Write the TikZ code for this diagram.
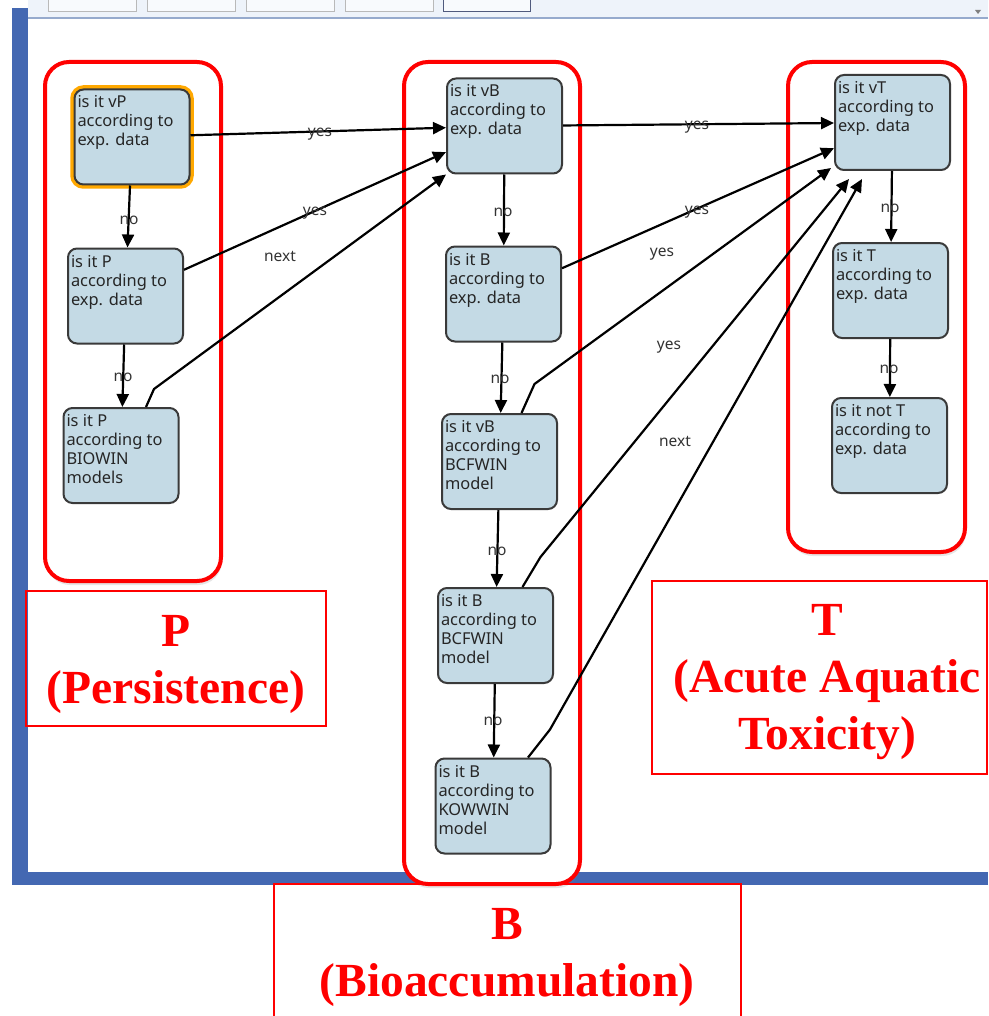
\documentclass[tikz,border=0pt]{standalone}
\usepackage{fontspec}
\setmainfont{Noto Sans}
\newfontfamily\ttlfont{Liberation Serif}
\usepackage{tikz}
\usetikzlibrary{arrows.meta,shadows}

\definecolor{boxblue}{RGB}{196,218,229}
\definecolor{boxline}{RGB}{58,58,58}
\definecolor{grpred}{RGB}{255,0,0}
\definecolor{frameblue}{RGB}{68,104,178}
\definecolor{barblue}{RGB}{238,243,250}
\definecolor{hiorange}{RGB}{255,168,0}

% question text, top left in the box
\newcommand{\qtxt}[1]{\parbox[c][95pt][t]{109pt}{\rule{0pt}{18.5pt}#1}}

\tikzset{
  qbox/.style={draw=boxline,line width=2pt,fill=boxblue,rounded corners=9pt,
    inner xsep=3pt,inner ysep=0pt,text=black!85,font=\fontsize{16.4}{19}\selectfont},
  hilite/.style={preaction={draw=hiorange,line width=8.5pt}},
  flow/.style={draw=black,line width=2.2pt,-{Triangle[length=13pt,width=12pt]}},
  elabel/.style={inner sep=0pt,text=black!80,font=\fontsize{15.5}{18}\selectfont},
  grp/.style={draw=grpred,line width=4pt,rounded corners=24pt,fill=white,
    drop shadow={opacity=0.2,shadow xshift=1pt,shadow yshift=-4pt}},
  tagbox/.style={draw=grpred,line width=2pt},
  ttl/.style={text=grpred,align=center,inner sep=0pt,
    font=\ttlfont\bfseries\fontsize{47.5}{57}\selectfont},
}

\begin{document}
\begin{tikzpicture}[x=1pt,y=-1pt]
  \clip (0,0) rectangle (988,1016);
  % window frame
  \fill[barblue] (28,0) rectangle (988,18);
  \draw[color={rgb,255:red,150;green,170;blue,205},line width=1.2pt] (28,18) -- (988,18);
  \foreach \xa/\xb in {48/136,147/235,246/334,345/433}
    \draw[gray!55,fill=white!60!barblue] (\xa,-3) rectangle (\xb,11);
  \draw[color={rgb,255:red,80;green,90;blue,125},fill=white!60!barblue] (443,-3) rectangle (530,11);
  \fill[gray] (975,10) -- (981,10) -- (978,14) -- cycle;
  \fill[frameblue] (12,8) rectangle (28,885);
  \fill[frameblue] (12,872) rectangle (988,885);

  % groups
  \draw[grp] (45,62) rectangle (221,581);
  \draw[grp] (404,62) rectangle (580,884);
  \draw[grp] (788,62) rectangle (965,552);

  % P column
  \node[qbox,hilite] (vP) at (132,137) {\qtxt{is it vP\\according to\\exp. data}};
  \node[qbox] (pexp) at (125.5,296) {\qtxt{is it P\\according to\\exp. data}};
  \node[qbox] (pbw) at (121,455.5) {\qtxt{is it P\\according to\\BIOWIN\\models}};

  % B column
  \node[qbox] (vB) at (504.5,126) {\qtxt{is it vB\\according to\\exp. data}};
  \node[qbox] (bexp) at (503.5,294) {\qtxt{is it B\\according to\\exp. data}};
  \node[qbox] (vbbcf) at (499.5,461.5) {\qtxt{is it vB\\according to\\BCFWIN\\model}};
  \node[qbox] (bbcf) at (495.5,635.5) {\qtxt{is it B\\according to\\BCFWIN\\model}};
  \node[qbox] (bkow) at (493,806) {\qtxt{is it B\\according to\\KOWWIN\\model}};

  % T column
  \node[qbox] (vT) at (892.5,122.5) {\qtxt{is it vT\\according to\\exp. data}};
  \node[qbox] (texp) at (890.5,290.5) {\qtxt{is it T\\according to\\exp. data}};
  \node[qbox] (nott) at (889.5,445.5) {\qtxt{is it not T\\according to\\exp. data}};

  % no chains
  \draw[flow] (vP) -- (pexp);
  \draw[flow] (pexp) -- (pbw);
  \draw[flow] (vB) -- (bexp);
  \draw[flow] (bexp) -- (vbbcf);
  \draw[flow] (vbbcf) -- (bbcf);
  \draw[flow] (bbcf) -- (bkow);
  \draw[flow] (vT) -- (texp);
  \draw[flow] (texp) -- (nott);

  % P -> B
  \draw[flow] (vP) -- (vB);
  \draw[flow] (pexp) -- (vB);
  \draw[flow] ([xshift=25pt]pbw.north) -- ++(8,-18) -- (vB.south west);

  % B -> T
  \draw[flow] (vB) -- (vT);
  \draw[flow] (bexp) -- (vT);
  \draw[flow] ([xshift=22pt]vbbcf.north) -- ++(13,-29) -- ([xshift=-3pt,yshift=3pt]vT.south west);
  \draw[flow] ([xshift=27pt]bbcf.north) -- ++(18,-30) -- ([xshift=15pt,yshift=-8pt]vT.south west);
  \draw[flow] ([xshift=35pt]bkow.north) -- ++(22,-28) -- ([xshift=28pt,yshift=-8pt]vT.south west);

  % edge labels
  \node[elabel] (no1) at (129,220) {no};
  \node[elabel] (no2) at (123,377) {no};
  \node[elabel] (no3) at (503,212) {no};
  \node[elabel] (no4) at (500,379) {no};
  \node[elabel] (no5) at (497,551) {no};
  \node[elabel] (no6) at (493,721) {no};
  \node[elabel] (no7) at (890,208) {no};
  \node[elabel] (no8) at (889,369) {no};
  \node[elabel] (yes1) at (320,134) {yes};
  \node[elabel] (yes2) at (315,213) {yes};
  \node[elabel] (next1) at (280,256) {next};
  \node[elabel] (yes3) at (697,127) {yes};
  \node[elabel] (yes4) at (697,212) {yes};
  \node[elabel] (yes5) at (662,254) {yes};
  \node[elabel] (yes6) at (669,347) {yes};
  \node[elabel] (next2) at (675,441) {next};

  % captions
  \draw[tagbox] (26,591) rectangle (326,726);
  \draw[tagbox] (652,581) rectangle (987,774);
  \draw[tagbox] (274,884) rectangle (741,1030);
  \node[ttl] (ttlP) at (176,664) {P\\(Persistence)};
  \node[ttl] (ttlT) at (827,682.5) {T\\(Acute Aquatic\\Toxicity)};
  \node[ttl] (ttlB) at (507,957.5) {B\\(Bioaccumulation)};
\end{tikzpicture}
\end{document}
